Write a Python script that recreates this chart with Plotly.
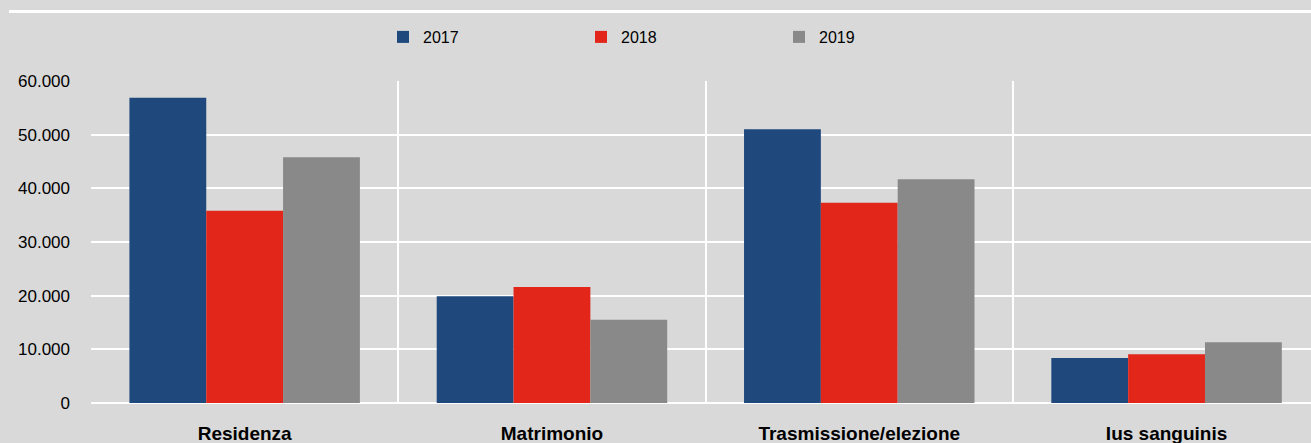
import plotly.graph_objects as go

categories = ["Residenza", "Matrimonio", "Trasmissione/elezione", "Ius sanguinis"]
years = ["2017", "2018", "2019"]
values_2017 = [56900, 19900, 51000, 8400]
values_2018 = [35800, 21600, 37300, 9100]
values_2019 = [45800, 15500, 41700, 11300]
colors = ["#1F497D", "#E3261A", "#898989"]
y_ticks = [0, 10000, 20000, 30000, 40000, 50000, 60000]

FONT = "Liberation Sans Narrow, Arial Narrow, Liberation Sans, Arial, sans-serif"

fig = go.Figure()
for name, vals, col in zip(years, [values_2017, values_2018, values_2019], colors):
    fig.add_trace(go.Bar(x=categories, y=vals, name=name, marker=dict(color=col, line=dict(width=0))))

fig.update_layout(
    width=1311, height=443,
    margin=dict(l=91, r=0, t=81, b=40),
    paper_bgcolor="#D9D9D9", plot_bgcolor="#D9D9D9",
    barmode="group", bargap=0.25, bargroupgap=0,
    separators=",.",
    font=dict(family=FONT, size=16, color="#000000"),
    showlegend=True,
    legend=dict(orientation="h", xref="container", yref="container",
                x=383 / 1311, y=1 - 37 / 443, xanchor="left", yanchor="middle",
                entrywidth=153, entrywidthmode="pixels", itemwidth=30,
                font=dict(family=FONT, size=16, color="#000000"),
                bgcolor="rgba(0,0,0,0)"),
    shapes=[dict(type="line", xref="paper", yref="paper",
                 x0=(9 - 91) / 1220, x1=1.0, y0=1 + 69.5 / 322, y1=1 + 69.5 / 322,
                 line=dict(color="#FFFFFF", width=3))],
)
fig.update_xaxes(type="category", range=[-0.5, 3.47], tickson="boundaries",
                 showgrid=True, gridcolor="#FFFFFF", gridwidth=2, ticks="",
                 showline=False, zeroline=False,
                 tickfont=dict(family=FONT, size=19, color="#000000", weight="bold"),
                 ticklabelstandoff=17)
fig.update_yaxes(range=[0, 60000], tickvals=y_ticks, tickformat=",d",
                 showgrid=True, gridcolor="#FFFFFF", gridwidth=2,
                 zeroline=True, zerolinecolor="#FFFFFF", zerolinewidth=2,
                 showline=False, ticks="",
                 tickfont=dict(family=FONT, size=17, color="#000000"),
                 ticklabelstandoff=20)

fig.write_html("out.html", config={"displayModeBar": False},
               post_script="document.body.style.margin='0';document.body.style.overflow='hidden';")
